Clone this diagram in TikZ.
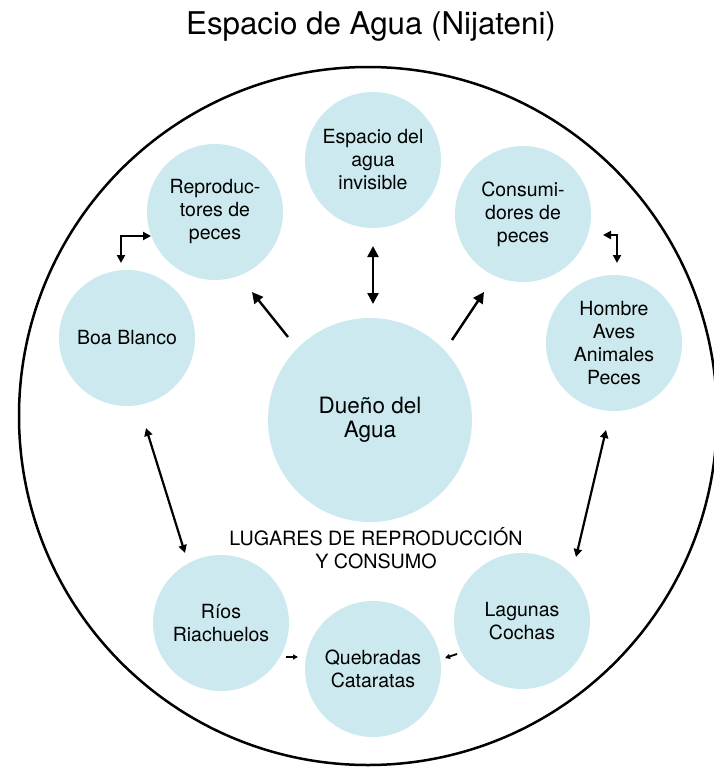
\documentclass[tikz,border=0pt]{standalone}
\usepackage{fontspec}
\setmainfont{TeX Gyre Heros}
\usetikzlibrary{arrows.meta}
\definecolor{bub}{RGB}{203,233,238}
\tikzset{
  bigtip/.tip={Triangle[length=11pt,width=11pt]},
  midtip/.tip={Triangle[length=8pt,width=8pt]},
  smalltip/.tip={Triangle[length=5pt,width=5pt]}}
\begin{document}
\begin{tikzpicture}[x=1pt,y=-1pt,
  bubble/.style={circle,fill=bub,inner sep=0pt,minimum size=136pt,align=center,
    font=\fontsize{19.5}{23}\selectfont},
  big/.style={bubble,minimum size=204pt,font=\fontsize{22.5}{24}\selectfont},
  arr/.style={line width=2.4pt,-{bigtip}},
  darr/.style={line width=2.4pt,{bigtip}-{bigtip}},
  darrs/.style={line width=2.2pt,{midtip}-{midtip}},
  tarr/.style={line width=1.8pt,-{smalltip}},
  lbl/.style={align=center,font=\fontsize{19.7}{22.5}\selectfont}]
\useasboundingbox (0,0) rectangle (714,769);

\node[font=\fontsize{31.3}{34}\selectfont] (title) at (371,26) {Espacio de Agua (Nijateni)};
\node[circle,draw,line width=2.5pt,inner sep=0pt,minimum size=698pt] (outer) at (368,416) {};

\node[bubble] (esp) at (373,160) {Espacio del\\agua\\invisible};
\node[bubble] (rep) at (215,212) {Reproduc-\\tores de\\peces};
\node[bubble] (con) at (523,214) {Consumi-\\dores de\\peces};
\node[bubble] (boa) at (127,338) {Boa Blanco};
\node[bubble] (hom) at (614,343) {Hombre\\Aves\\Animales\\Peces};
\node[big] (due) at (370,420) {Dueño del\\Agua};
\node[bubble] (rio) at (221,623) {Ríos\\Riachuelos};
\node[bubble] (lag) at (522,621) {Lagunas\\Cochas};
\node[bubble] (que) at (373,669) {Quebradas\\Cataratas};

\node[lbl] (lug) at (376,548) {LUGARES DE REPRODUCCIÓN\\Y CONSUMO};

% arrow end points
\coordinate (v1) at (373,304);
\coordinate (v2) at (373,246);
\coordinate (d1) at (288,337);
\coordinate (d2) at (252,292);
\coordinate (d3) at (452,340);
\coordinate (d4) at (484,292);
\coordinate (l1) at (151,236);
\coordinate (l2) at (121,263);
\coordinate (r1) at (603,235);
\coordinate (r2) at (617,263);
\coordinate (b1) at (146,428);
\coordinate (b2) at (185,553);
\coordinate (h1) at (606,430);
\coordinate (h2) at (576,557);
\coordinate (s1) at (286,657);
\coordinate (s2) at (298,657);
\coordinate (s3) at (457,654);
\coordinate (s4) at (445,658);

\draw[darr] (v1) -- (v2);
\draw[arr] (d1) -- (d2);
\draw[arr] (d3) -- (d4);
\draw[darrs] (l1) -| (l2);
\draw[darrs] (r1) -| (r2);
\draw[darrs] (b1) -- (b2);
\draw[darrs] (h1) -- (h2);
\draw[tarr] (s1) -- (s2);
\draw[tarr] (s3) -- (s4);
\end{tikzpicture}
\end{document}
